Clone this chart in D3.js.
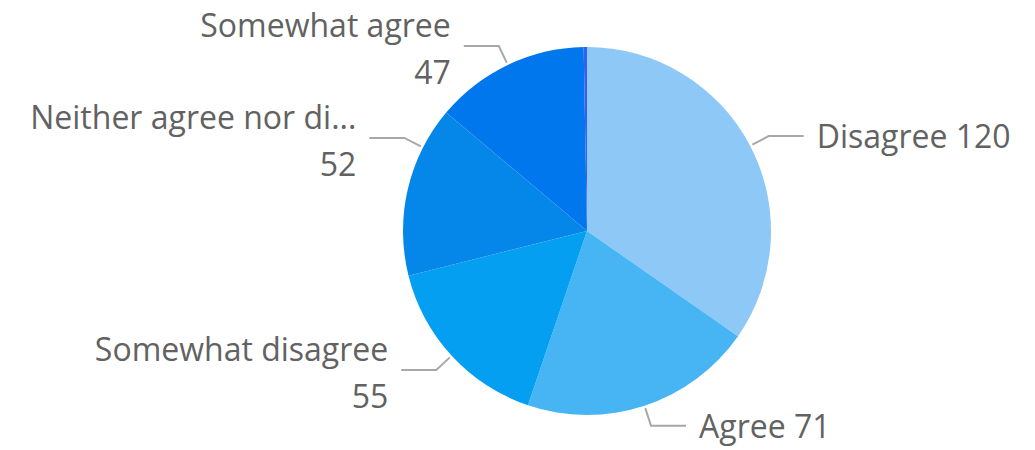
<!DOCTYPE html>
<html>
<head>
<meta charset="utf-8">
<script src="https://cdn.jsdelivr.net/npm/d3@7/dist/d3.min.js"></script>
<style>
  html, body { margin: 0; padding: 0; background: #ffffff; }
  svg { display: block; }
  .lbl { font-family: "Open Sans", "Noto Sans", sans-serif; font-size: 32px; fill: #626262; }
</style>
</head>
<body>
<svg id="chart" width="1035" height="450"></svg>
<script>
// Survey responses
const categories = ["Disagree", "Agree", "Somewhat disagree", "Neither agree nor disagree", "Somewhat agree", "Strongly agree"];
const counts = [120, 71, 55, 52, 47, 1];
const colors = ["#8dc8f6", "#47b4f4", "#049ff0", "#0587ea", "#0177ee", "#3560f2"];
// Responses too small to carry a label
const minLabelShare = 0.01;

const width = 1035, height = 450;
const cx = 587, cy = 231, radius = 184;

const svg = d3.select("#chart");
const g = svg.append("g").attr("transform", `translate(${cx},${cy})`);

const data = categories.map((c, i) => ({ name: c, value: counts[i], color: colors[i] }));
const total = d3.sum(counts);

const pie = d3.pie().value(d => d.value).sort(null);
const arcs = pie(data);
const arc = d3.arc().innerRadius(0).outerRadius(radius);

g.selectAll("path.slice")
  .data(arcs)
  .join("path")
  .attr("class", "slice")
  .attr("d", arc)
  .attr("fill", d => d.data.color);

// Label layout: leader from slice edge out to an elbow, then a short horizontal run
const startR = radius + 2.5, elbowR = radius + 21, run = 35, gap = 13;
// Angular nudge (degrees) to keep the left-hand labels apart
const angleNudge = { "Neither agree nor disagree": 14 };

function truncate(text, maxChars) {
  return text.length > maxChars ? text.slice(0, maxChars) + "..." : text;
}

const labelled = arcs.filter(d => d.value / total >= minLabelShare);

labelled.forEach(d => {
  const mid = (d.startAngle + d.endAngle) / 2 + (angleNudge[d.data.name] || 0) * Math.PI / 180;
  const sx = startR * Math.sin(mid), sy = -startR * Math.cos(mid);
  const ex = elbowR * Math.sin(mid), ey = -elbowR * Math.cos(mid);
  const right = Math.sin(mid) >= 0;
  const hx = ex + (right ? run : -run);

  g.append("polyline")
    .attr("points", [[sx, sy], [ex, ey], [hx, ey]].map(p => p.join(",")).join(" "))
    .attr("fill", "none")
    .attr("stroke", "#a8a8a8")
    .attr("stroke-width", 2);

  const tx = hx + (right ? gap : -gap);
  const name = truncate(d.data.name, 20);
  if (right) {
    g.append("text").attr("class", "lbl")
      .attr("x", tx).attr("y", ey + 12)
      .attr("text-anchor", "start")
      .text(`${name} ${d.value}`);
  } else {
    const t = g.append("text").attr("class", "lbl").attr("text-anchor", "end");
    t.append("tspan").attr("x", tx).attr("y", ey - 8.5).text(name);
    t.append("tspan").attr("x", tx).attr("y", ey + 38.5).text(d.value);
  }
});
</script>
</body>
</html>
